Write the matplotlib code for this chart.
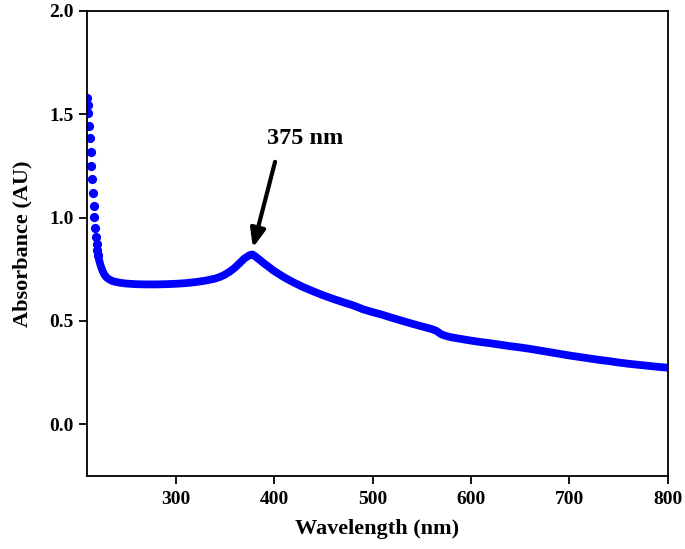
import numpy as np
import matplotlib.pyplot as plt

plt.rcParams.update({
    'font.family': 'Liberation Serif',
    'font.weight': 'bold',
    'axes.labelweight': 'bold',
    'axes.linewidth': 1.3,
    'xtick.major.width': 1.3,
    'ytick.major.width': 1.3,
    'xtick.major.size': 6,
    'ytick.major.size': 6,
    'xtick.labelsize': 14,
    'ytick.labelsize': 14,
})

# absorbance spectrum
wavelength = [210, 210.8, 211.5, 212.3, 213.0, 213.8, 214.5, 215.3, 216.0, 216.8,
              217.5, 218.3, 219.0, 219.8, 220.5, 221.3, 222, 223, 224, 225, 226,
              228, 230, 233, 236, 240, 245, 250, 260, 270, 280, 290, 300, 310,
              320, 330, 340, 345, 350, 355, 360, 365, 370, 375, 378, 380, 385,
              390, 395, 400, 410, 420, 430, 440, 450, 460, 470, 480, 485, 490,
              500, 510, 520, 530, 540, 550, 560, 565, 570, 575, 580, 590, 600,
              610, 620, 630, 640, 650, 660, 670, 680, 690, 700, 710, 720, 730,
              740, 750, 760, 770, 780, 790, 800]
absorbance = [1.577, 1.545, 1.505, 1.443, 1.383, 1.319, 1.249, 1.185, 1.120, 1.056,
              1.001, 0.951, 0.907, 0.872, 0.843, 0.818, 0.800, 0.782, 0.766, 0.752,
              0.740, 0.722, 0.710, 0.700, 0.693, 0.688, 0.684, 0.681, 0.678, 0.677,
              0.677, 0.678, 0.680, 0.683, 0.688, 0.695, 0.705, 0.713, 0.724, 0.739,
              0.757, 0.780, 0.803, 0.818, 0.822, 0.816, 0.797, 0.778, 0.760, 0.742,
              0.712, 0.686, 0.663, 0.643, 0.624, 0.607, 0.591, 0.576, 0.567, 0.557,
              0.543, 0.530, 0.515, 0.501, 0.487, 0.474, 0.461, 0.452, 0.435, 0.427,
              0.421, 0.413, 0.405, 0.398, 0.392, 0.385, 0.378, 0.372, 0.365, 0.357,
              0.349, 0.341, 0.333, 0.326, 0.319, 0.312, 0.306, 0.299, 0.293, 0.288,
              0.283, 0.278, 0.274]

peak_label = '375 nm'
n_steep = 16  # the steep UV edge shows as separate dots

fig = plt.figure(figsize=(6.85, 5.49), dpi=100)
ax = fig.add_axes([0.127, 0.133, 0.848, 0.847])

ax.plot(wavelength[:n_steep], absorbance[:n_steep], linestyle='none',
        color='#0000ff', marker='o', markersize=5.6)
ax.plot(wavelength[n_steep - 1:], absorbance[n_steep - 1:], color='#0000ff',
        linewidth=5.6, solid_capstyle='round', solid_joinstyle='round')

ax.annotate('', xy=(378.5, 0.855), xytext=(401, 1.27),
            arrowprops=dict(arrowstyle='-|>,head_length=1.1,head_width=0.45',
                            color='black', lw=3, shrinkA=0, shrinkB=0))
ax.text(432, 1.385, peak_label, fontsize=17.5, fontweight='bold',
        ha='center', va='center')

ax.set_xlim(210, 800)
ax.set_ylim(-0.25, 2.0)
ax.set_xticks([300, 400, 500, 600, 700, 800])
ax.set_yticks([0.0, 0.5, 1.0, 1.5, 2.0])
ax.tick_params(direction='out', top=False, right=False)
ax.tick_params(axis='x', pad=5)
ax.set_xlabel('Wavelength (nm)', fontsize=16, labelpad=8)
ax.set_ylabel('Absorbance (AU)', fontsize=16, labelpad=12)

fig.savefig('out.png', dpi=100)
